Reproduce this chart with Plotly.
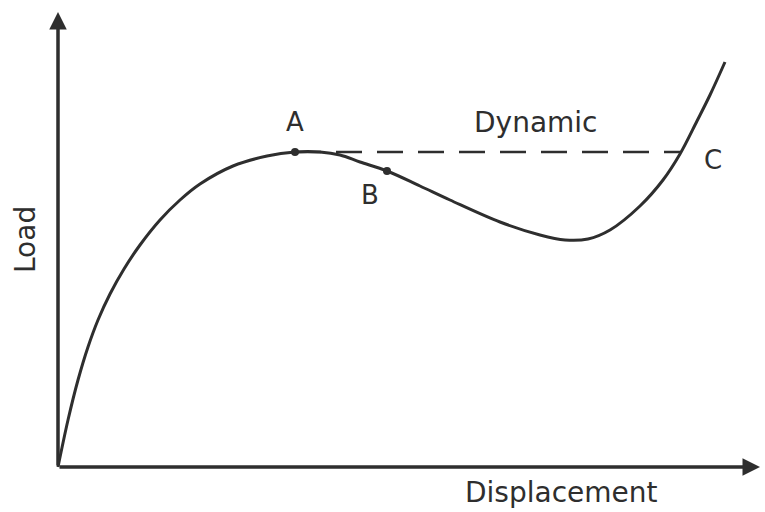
import plotly.graph_objects as go

# Load-displacement curve (arbitrary units)
displacement = [0, 10, 20, 30, 40, 52, 66, 82, 102, 122, 142, 175, 209, 237, 262,
                282, 302, 329, 362, 392, 442, 482, 507, 530, 552, 582, 605, 622, 639, 652, 667]
load = [0, 47, 87, 120, 147, 173, 198, 222, 247, 267, 283, 301, 311, 315, 315,
        312, 305, 296, 281, 267, 245, 232, 227, 228, 237, 261, 287, 313, 346, 372, 405]

# Dynamic (snap-through) line from A to C
dyn_x = [237, 622]
dyn_y = [315, 315]

# Marked points
pt_labels = ["A", "B"]
pt_x = [237, 329]
pt_y = [315, 296]

# Axis extents
x_axis_end = 702
y_axis_end = 455

ink = "#2e2e2e"
font_lbl = dict(family="DejaVu Sans, Verdana, sans-serif", size=26, color=ink)
font_txt = dict(family="DejaVu Sans, Verdana, sans-serif", size=28, color=ink)

fig = go.Figure()
fig.add_trace(go.Scatter(x=dyn_x, y=dyn_y, mode="lines",
                         line=dict(color=ink, width=2.5, dash="26px,15px"),
                         hoverinfo="skip"))
fig.add_trace(go.Scatter(x=displacement, y=load, mode="lines",
                         line=dict(color=ink, width=3, shape="spline", smoothing=1.0),
                         hoverinfo="skip"))
fig.add_trace(go.Scatter(x=pt_x, y=pt_y, mode="markers",
                         marker=dict(color=ink, size=8), hoverinfo="skip"))

# Axes with arrows
fig.add_annotation(x=x_axis_end, y=0, ax=0, ay=0, xref="x", yref="y",
                   axref="x", ayref="y", text="", showarrow=True,
                   arrowhead=2, arrowsize=1, arrowwidth=3.5, arrowcolor=ink)
fig.add_annotation(x=0, y=y_axis_end, ax=0, ay=0, xref="x", yref="y",
                   axref="x", ayref="y", text="", showarrow=True,
                   arrowhead=2, arrowsize=1, arrowwidth=3.5, arrowcolor=ink)

# Labels
fig.add_annotation(x=237, y=345, text="A", showarrow=False, font=font_lbl)
fig.add_annotation(x=312, y=272, text="B", showarrow=False, font=font_lbl)
fig.add_annotation(x=655, y=307, text="C", showarrow=False, font=font_lbl)
fig.add_annotation(x=477, y=345, text="Dynamic", showarrow=False, font=font_txt)
fig.add_annotation(x=503, y=-25, text="Displacement", showarrow=False, font=font_txt)
fig.add_annotation(x=-33, y=227, text="Load", showarrow=False, font=font_txt, textangle=-90)

fig.update_layout(
    width=765, height=512,
    margin=dict(l=0, r=0, t=0, b=0),
    paper_bgcolor="white", plot_bgcolor="white",
    showlegend=False,
    xaxis=dict(range=[-58, 707], visible=False, fixedrange=True),
    yaxis=dict(range=[-45, 467], visible=False, fixedrange=True),
)

fig.write_html("out.html", config={"displayModeBar": False},
               post_script="document.body.style.margin='0';document.body.style.overflow='hidden';")
